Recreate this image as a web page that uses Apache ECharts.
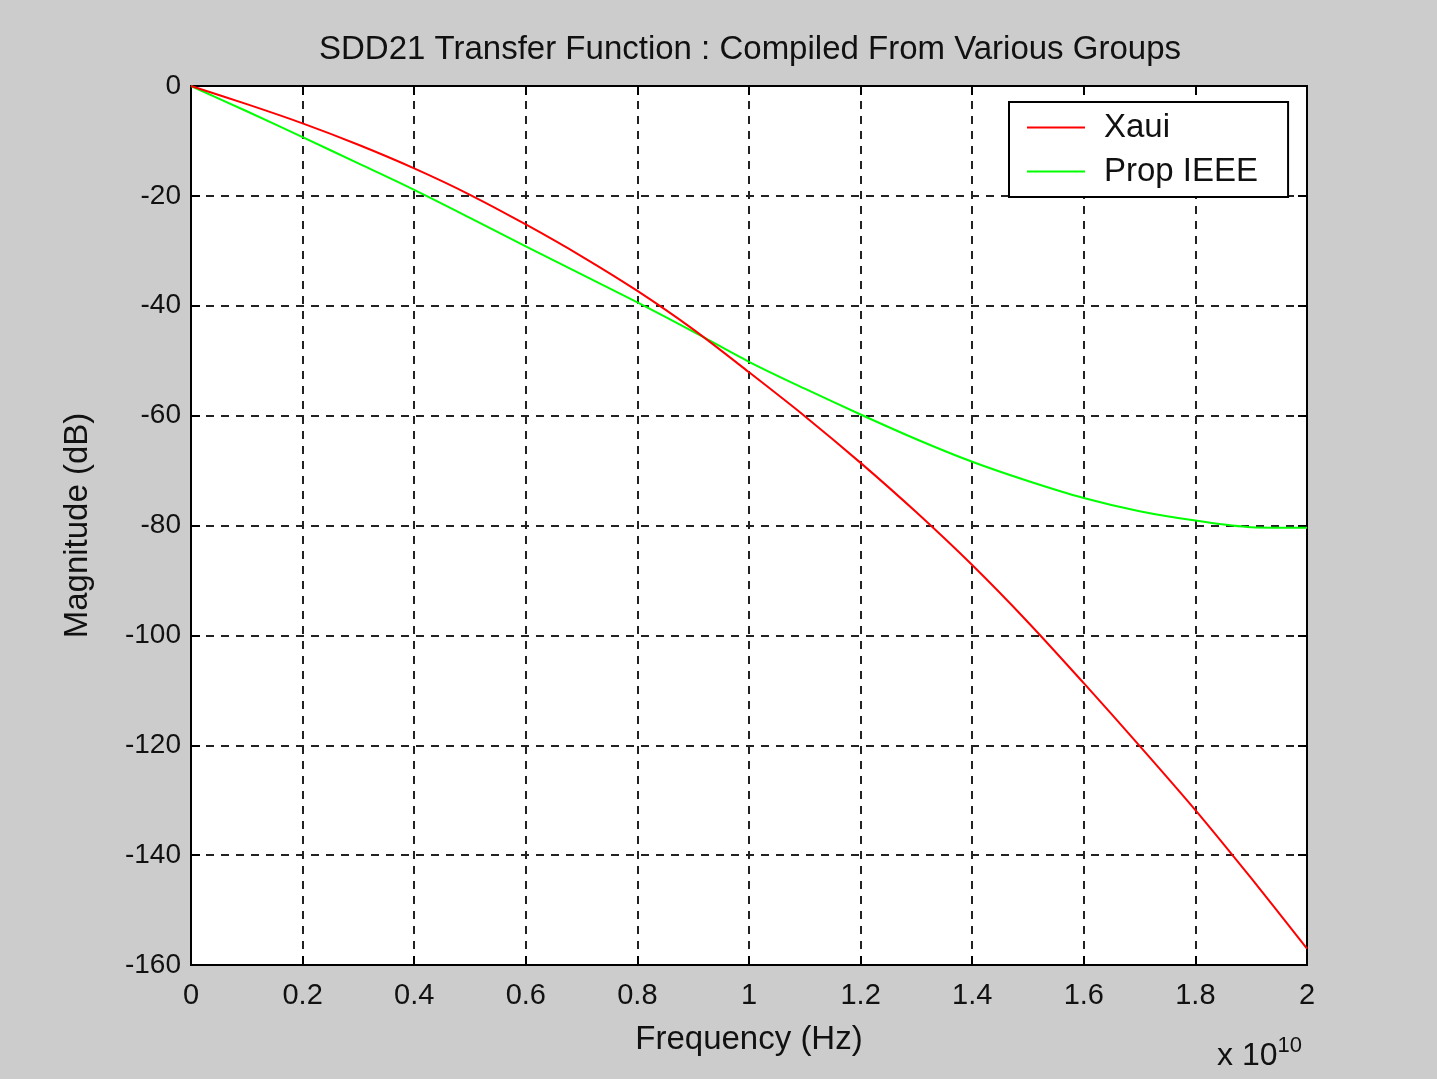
<!DOCTYPE html>
<html>
<head>
<meta charset="utf-8">
<script src="https://cdn.jsdelivr.net/npm/echarts@6/dist/echarts.min.js"></script>
<style>
html,body{margin:0;padding:0;background:#cccccc;}
#chart{width:1437px;height:1079px;}
</style>
</head>
<body>
<div id="chart"></div>
<script>
// Frequency in units of 1e10 Hz
const freq = [0,0.1,0.2,0.3,0.4,0.5,0.6,0.7,0.8,0.9,1.0,1.1,1.2,1.3,1.4,1.5,1.6,1.7,1.8,1.9,2.0];
const xaui = [0,-3.3,-6.8,-10.7,-15.0,-19.8,-25.2,-31.0,-37.3,-44.3,-52.1,-60.1,-68.6,-77.6,-87.2,-97.6,-108.7,-120.1,-131.8,-144.2,-157];
const propIEEE = [0,-4.6,-9.3,-14.1,-18.9,-24.0,-29.2,-34.3,-39.4,-44.7,-50.2,-55.1,-59.8,-64.3,-68.4,-71.9,-75,-77.4,-79.1,-80.3,-80.4];
const seriesNames = ['Xaui','Prop IEEE'];
const titleText = 'SDD21 Transfer Function : Compiled From Various Groups';
const xName = 'Frequency (Hz)';
const yName = 'Magnitude (dB)';

const FONT = 'Liberation Sans';
const chart = echarts.init(document.getElementById('chart'));
const gridLine = {show:true, lineStyle:{color:'#222', width:2, type:[8,7]}};
const fmtX = v => String(parseFloat(v.toFixed(1)));
const tickIn = {show:true, inside:true, length:9, lineStyle:{color:'#000', width:2}};
const axLine = {show:true, onZero:false, lineStyle:{color:'#000', width:2}};

chart.setOption({
  backgroundColor:'#cccccc',
  animation:false,
  title:{text:titleText, left:745, top:28, textAlign:'center',
    textStyle:{fontFamily:FONT, fontSize:33, fontWeight:'normal', color:'#111'}},
  grid:{left:191, top:86, width:1116, height:879, show:true, backgroundColor:'#fff',
    borderColor:'#000', borderWidth:2},
  legend:{
    data:seriesNames, orient:'vertical', left:1009, top:102,
    backgroundColor:'#fff', borderColor:'#000', borderWidth:2, borderRadius:0,
    padding:[9,30,9,18], itemGap:11, itemWidth:58, itemHeight:2, icon:'rect',
    textStyle:{fontFamily:FONT, fontSize:33, color:'#111', padding:[0,0,0,14]}
  },
  xAxis:[{
    type:'value', position:'bottom', min:0, max:2, interval:0.2,
    name:xName, nameLocation:'middle', nameGap:58,
    nameTextStyle:{fontFamily:FONT, fontSize:33, color:'#111'},
    axisLine:axLine,
    axisTick:tickIn,
    axisLabel:{formatter:fmtX, fontFamily:FONT, fontSize:29, color:'#111', margin:16},
    splitLine:gridLine
  },{
    type:'value', position:'top', min:0, max:2, interval:0.2,
    axisLine:axLine,
    axisTick:tickIn, axisLabel:{show:false}, splitLine:{show:false}
  }],
  yAxis:[{
    type:'value', position:'left', min:-160, max:0, interval:20,
    name:yName, nameLocation:'middle', nameGap:97, nameRotate:90,
    nameTextStyle:{fontFamily:FONT, fontSize:33, color:'#111'},
    axisLine:axLine,
    axisTick:tickIn,
    axisLabel:{fontFamily:FONT, fontSize:28, color:'#111', margin:10},
    splitLine:gridLine
  },{
    type:'value', position:'right', min:-160, max:0, interval:20,
    axisLine:axLine,
    axisTick:tickIn, axisLabel:{show:false}, splitLine:{show:false}
  }],
  graphic:[{
    type:'text', left:1217, top:1035,
    style:{
      text:'x 10{sup|10}',
      font:'32px "Liberation Sans"', fill:'#111',
      rich:{sup:{fontFamily:FONT, fontSize:22, verticalAlign:'top', padding:[0,0,20,0], fill:'#111'}}
    }
  }],
  series:[
    {name:seriesNames[0], type:'line', data:freq.map((f,i)=>[f,xaui[i]]), symbol:'none', smooth:0.3,
      lineStyle:{color:'#ff0000', width:2}, itemStyle:{color:'#ff0000'}, z:3},
    {name:seriesNames[1], type:'line', data:freq.map((f,i)=>[f,propIEEE[i]]), symbol:'none', smooth:0.3,
      lineStyle:{color:'#00ff00', width:2}, itemStyle:{color:'#00ff00'}, z:2}
  ]
});
</script>
</body>
</html>
